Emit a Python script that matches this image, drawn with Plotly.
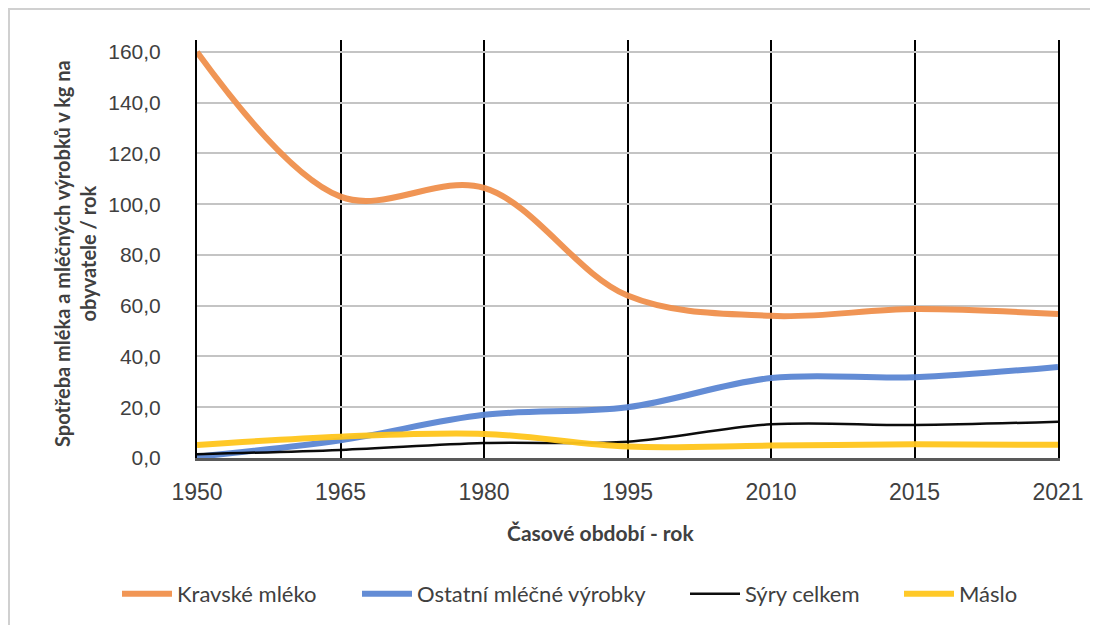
import plotly.graph_objects as go

years = ["1950", "1965", "1980", "1995", "2010", "2015", "2021"]
kravske_mleko = [160.0, 103.0, 106.4, 64.0, 56.0, 58.7, 56.7]
ostatni_vyrobky = [0.5, 7.0, 17.0, 20.0, 31.5, 31.8, 35.9]
syry_celkem = [1.5, 3.2, 5.9, 6.4, 13.3, 13.0, 14.3]
maslo = [5.1, 8.4, 9.5, 4.5, 4.9, 5.4, 5.2]

series = [
    ("Kravské mléko", kravske_mleko, "#F0904C", 6),
    ("Ostatní mléčné výrobky", ostatni_vyrobky, "#5B86D3", 6),
    ("Sýry celkem", syry_celkem, "#000000", 2.5),
    ("Máslo", maslo, "#FFC61C", 6),
]
# page x where each legend label text starts
legend_text_x = [175, 415, 743, 957]

fig = go.Figure()
for i, (name, vals, color, w) in enumerate(series):
    fig.add_trace(go.Scatter(
        x=years, y=vals, name=name, mode="lines",
        line=dict(color=color, width=w, shape="spline", smoothing=1.0),
        opacity=0.95,
        legend="legend" if i == 0 else f"legend{i + 1}",
    ))

tick_family = "Liberation Sans, Arial, sans-serif"
text_font = "Lato, Liberation Sans, sans-serif"

# page body has an 8px offset; figure coordinates below are page - 8
OFF = 8
W, H = 1098, 625
L, R, T, B = 197 - OFF, 48, 40 - OFF, 625 - (458 - OFF)
pw, ph = W - L - R, H - T - B

def px(xp):
    return (xp - OFF - L) / pw

def py(yp):
    return (H - B - (yp - OFF)) / ph

TEXT_OFFSET = 58
legends = {}
for i, tx in enumerate(legend_text_x):
    key = "legend" if i == 0 else f"legend{i + 1}"
    legends[key] = dict(
        orientation="h", x=px(tx - TEXT_OFFSET), xanchor="left", y=py(594), yanchor="middle",
        font=dict(family=text_font, size=22, color="#404040"),
        itemwidth=50, bgcolor="rgba(0,0,0,0)",
    )

fig.update_layout(
    width=W, height=H,
    margin=dict(l=L, r=R, t=T, b=B),
    paper_bgcolor="white", plot_bgcolor="white",
    separators=",.",
    showlegend=True,
    xaxis=dict(
        type="category", range=[0, 6],
        showgrid=True, gridcolor="#000000", gridwidth=2,
        showline=True, linecolor="#595959", linewidth=3,
        ticks="", tickfont=dict(family=tick_family, size=23, color="#404040"),
        ticklabelstandoff=11,
        zeroline=False,
    ),
    yaxis=dict(
        range=[0, 164.7], tickvals=[0, 20, 40, 60, 80, 100, 120, 140, 160],
        tickformat=".1f",
        showgrid=True, gridcolor="#c4c4c4", gridwidth=2,
        showline=True, linecolor="#000000", linewidth=2, mirror=True,
        ticks="", tickfont=dict(family=tick_family, size=21, color="#404040"),
        ticklabelstandoff=30,
        zeroline=False,
    ),
    annotations=[
        dict(text="<b>Časové období - rok</b>", xref="paper", yref="paper",
             x=px(600), y=py(532), xanchor="center", yanchor="middle",
             showarrow=False, font=dict(family=text_font, size=21, color="#404040")),
        dict(text="<b>Spotřeba mléka a mléčných výrobků v kg na<br>obyvatele / rok</b>",
             xref="paper", yref="paper", textangle=-90,
             x=px(75), y=py(254), xanchor="center", yanchor="middle",
             showarrow=False, font=dict(family=text_font, size=20, color="#404040")),
    ],
    shapes=[
        dict(type="rect", xref="paper", yref="paper",
             x0=px(9), x1=px(1130), y0=py(660), y1=py(9),
             line=dict(color="#d0d0d0", width=2), fillcolor="rgba(0,0,0,0)", layer="below"),
    ],
    **legends,
)

fig.write_html("out.html")
